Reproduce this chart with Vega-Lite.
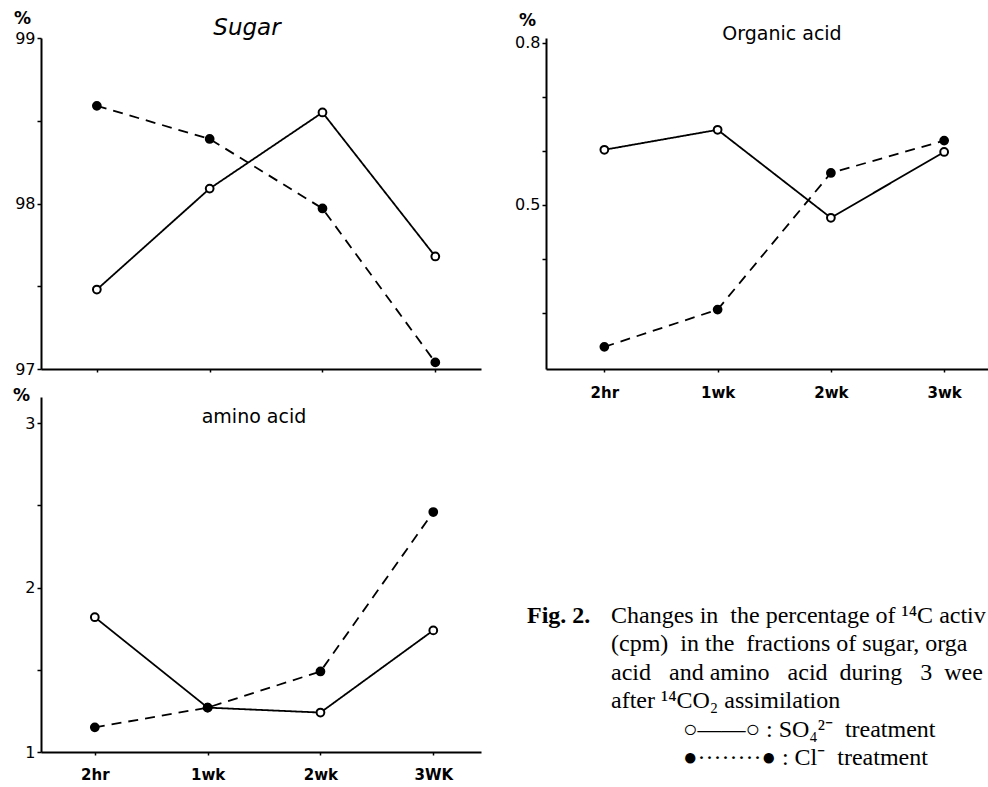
{
  "$schema": "https://vega.github.io/schema/vega-lite/v6.json",
  "background": "white",
  "padding": {"left": 12, "top": 9, "right": 0, "bottom": 0},
  "columns": 2,
  "bounds": "flush",
  "spacing": {"column": 65, "row": 28},
  "data": {
    "values": [
      {"panel": "Sugar", "time": "2hr", "treatment": "SO4", "value": 97.48},
      {"panel": "Sugar", "time": "1wk", "treatment": "SO4", "value": 98.09},
      {"panel": "Sugar", "time": "2wk", "treatment": "SO4", "value": 98.55},
      {"panel": "Sugar", "time": "3wk", "treatment": "SO4", "value": 97.68},
      {"panel": "Sugar", "time": "2hr", "treatment": "Cl", "value": 98.59},
      {"panel": "Sugar", "time": "1wk", "treatment": "Cl", "value": 98.39},
      {"panel": "Sugar", "time": "2wk", "treatment": "Cl", "value": 97.97},
      {"panel": "Sugar", "time": "3wk", "treatment": "Cl", "value": 97.04},
      {"panel": "Organic", "time": "2hr", "treatment": "SO4", "value": 0.602},
      {"panel": "Organic", "time": "1wk", "treatment": "SO4", "value": 0.639},
      {"panel": "Organic", "time": "2wk", "treatment": "SO4", "value": 0.476},
      {"panel": "Organic", "time": "3wk", "treatment": "SO4", "value": 0.598},
      {"panel": "Organic", "time": "2hr", "treatment": "Cl", "value": 0.237},
      {"panel": "Organic", "time": "1wk", "treatment": "Cl", "value": 0.306},
      {"panel": "Organic", "time": "2wk", "treatment": "Cl", "value": 0.559},
      {"panel": "Organic", "time": "3wk", "treatment": "Cl", "value": 0.619},
      {"panel": "Amino", "time": "2hr", "treatment": "SO4", "value": 1.82},
      {"panel": "Amino", "time": "1wk", "treatment": "SO4", "value": 1.27},
      {"panel": "Amino", "time": "2wk", "treatment": "SO4", "value": 1.24},
      {"panel": "Amino", "time": "3wk", "treatment": "SO4", "value": 1.74},
      {"panel": "Amino", "time": "2hr", "treatment": "Cl", "value": 1.15},
      {"panel": "Amino", "time": "1wk", "treatment": "Cl", "value": 1.27},
      {"panel": "Amino", "time": "2wk", "treatment": "Cl", "value": 1.49},
      {"panel": "Amino", "time": "3wk", "treatment": "Cl", "value": 2.46}
    ]
  },
  "resolve": {"scale": {"x": "independent", "y": "independent"}},
  "concat": [
    {
      "width": 440,
      "height": 331,
      "title": {"text": "Sugar", "fontSize": 23, "fontStyle": "italic", "dx": -14, "offset": -31},
      "transform": [{"filter": "datum.panel == 'Sugar'"}],
      "encoding": {
        "x": {"field": "time", "type": "ordinal", "sort": ["2hr", "1wk", "2wk", "3wk"],
              "scale": {"type": "point", "padding": 0.45, "align": 0.55},
              "axis": {"labels": false, "title": null, "tickSize": 3}},
        "y": {"field": "value", "type": "quantitative",
              "scale": {"domain": [97, 99], "zero": false, "nice": false},
              "axis": {"values": [97, 97.5, 98, 98.5, 99], "format": ".0f", "labelExpr": "datum.value % 1 == 0 ? datum.label : ''",
                       "title": "%", "titleAngle": 0, "titleX": -19, "titleY": -20, "titleAlign": "center", "titleBaseline": "middle"}}
      },
      "layer": [
        {"mark": {"type": "line", "color": "black", "strokeWidth": 1.8},
         "encoding": {"strokeDash": {"field": "treatment", "type": "nominal", "scale": {"domain": ["SO4", "Cl"], "range": [[1, 0], [10, 7]]}, "legend": null}}},
        {"mark": {"type": "point", "filled": true, "stroke": "black", "strokeWidth": 2, "size": 60, "opacity": 1},
         "encoding": {"fill": {"field": "treatment", "type": "nominal", "scale": {"domain": ["SO4", "Cl"], "range": ["white", "black"]}, "legend": null}}}
      ]
    },
    {
      "width": 444,
      "height": 331,
      "title": {"text": "Organic acid", "fontSize": 19, "dx": 14, "offset": -33},
      "transform": [{"filter": "datum.panel == 'Organic'"}],
      "encoding": {
        "x": {"field": "time", "type": "ordinal", "sort": ["2hr", "1wk", "2wk", "3wk"],
              "scale": {"type": "point", "padding": 0.46, "align": 0.56},
              "axis": {"title": null, "tickSize": 3, "labelAngle": 0, "labelFontSize": 15, "labelFontWeight": "bold", "labelPadding": 13}},
        "y": {"field": "value", "type": "quantitative",
              "scale": {"domain": [0.196, 0.809], "zero": false, "nice": false},
              "axis": {"values": [0.3, 0.4, 0.5, 0.6, 0.7, 0.8], "format": ".1f", "labelExpr": "(datum.value > 0.49 && datum.value < 0.51) || datum.value > 0.79 ? datum.label : ''",
                       "title": "%", "titleAngle": 0, "titleX": -19, "titleY": -18, "titleAlign": "center", "titleBaseline": "middle"}}
      },
      "layer": [
        {"mark": {"type": "line", "color": "black", "strokeWidth": 1.8},
         "encoding": {"strokeDash": {"field": "treatment", "type": "nominal", "scale": {"domain": ["SO4", "Cl"], "range": [[1, 0], [10, 7]]}, "legend": null}}},
        {"mark": {"type": "point", "filled": true, "stroke": "black", "strokeWidth": 2, "size": 60, "opacity": 1},
         "encoding": {"fill": {"field": "treatment", "type": "nominal", "scale": {"domain": ["SO4", "Cl"], "range": ["white", "black"]}, "legend": null}}}
      ]
    },
    {
      "width": 440,
      "height": 355,
      "title": {"text": "amino acid", "fontSize": 19, "dx": -7, "offset": -41},
      "transform": [{"filter": "datum.panel == 'Amino'"}],
      "encoding": {
        "x": {"field": "time", "type": "ordinal", "sort": ["2hr", "1wk", "2wk", "3wk"],
              "scale": {"type": "point", "padding": 0.45, "align": 0.53},
              "axis": {"title": null, "tickSize": 3, "labelAngle": 0, "labelFontSize": 15, "labelFontWeight": "bold", "labelPadding": 12,
                       "labelExpr": "datum.value == '3wk' ? '3WK' : datum.label"}},
        "y": {"field": "value", "type": "quantitative",
              "scale": {"domain": [1, 3.16], "zero": false, "nice": false},
              "axis": {"values": [1, 1.5, 2, 2.5, 3], "format": ".0f", "labelExpr": "datum.value % 1 == 0 ? datum.label : ''",
                       "title": "%", "titleAngle": 0, "titleX": -20, "titleY": -2, "titleAlign": "center", "titleBaseline": "middle"}}
      },
      "layer": [
        {"mark": {"type": "line", "color": "black", "strokeWidth": 1.8},
         "encoding": {"strokeDash": {"field": "treatment", "type": "nominal", "scale": {"domain": ["SO4", "Cl"], "range": [[1, 0], [10, 7]]}, "legend": null}}},
        {"mark": {"type": "point", "filled": true, "stroke": "black", "strokeWidth": 2, "size": 60, "opacity": 1},
         "encoding": {"fill": {"field": "treatment", "type": "nominal", "scale": {"domain": ["SO4", "Cl"], "range": ["white", "black"]}, "legend": null}}}
      ]
    },
    {
      "width": 444,
      "height": 355,
      "data": {"values": []},
      "mark": "point",
      "encoding": {},
      "title": {
        "text": "Fig. 2.",
        "subtitle": [
          "\u200b\u00a0\u00a0\u00a0\u00a0\u00a0\u00a0\u00a0\u00a0\u00a0\u00a0\u00a0\u00a0\u00a0\u00a0Changes in\u00a0 the percentage of ¹⁴C activ",
          "\u200b\u00a0\u00a0\u00a0\u00a0\u00a0\u00a0\u00a0\u00a0\u00a0\u00a0\u00a0\u00a0\u00a0\u00a0(cpm)\u00a0 in the\u00a0 fractions of sugar, orga",
          "\u200b\u00a0\u00a0\u00a0\u00a0\u00a0\u00a0\u00a0\u00a0\u00a0\u00a0\u00a0\u00a0\u00a0\u00a0acid\u00a0\u00a0 and amino\u00a0\u00a0 acid\u00a0 during\u00a0\u00a0 3\u00a0 wee",
          "\u200b\u00a0\u00a0\u00a0\u00a0\u00a0\u00a0\u00a0\u00a0\u00a0\u00a0\u00a0\u00a0\u00a0\u00a0after ¹⁴CO₂ assimilation",
          "\u200b\u00a0\u00a0\u00a0\u00a0\u00a0\u00a0\u00a0\u00a0\u00a0\u00a0\u00a0\u00a0\u00a0\u00a0\u00a0\u00a0\u00a0\u00a0\u00a0\u00a0\u00a0\u00a0\u00a0\u00a0\u00a0\u00a0○——○ : SO₄²⁻\u00a0 treatment",
          "\u200b\u00a0\u00a0\u00a0\u00a0\u00a0\u00a0\u00a0\u00a0\u00a0\u00a0\u00a0\u00a0\u00a0\u00a0\u00a0\u00a0\u00a0\u00a0\u00a0\u00a0\u00a0\u00a0\u00a0\u00a0\u00a0\u00a0●········● : Cl⁻\u00a0 treatment"
        ],
        "anchor": "start",
        "frame": "group",
        "orient": "top",
        "offset": -373,
        "dx": -19,
        "font": "Liberation Serif",
        "fontSize": 24,
        "fontWeight": "bold",
        "color": "black",
        "subtitleFont": "Liberation Serif",
        "subtitleFontSize": 24,
        "subtitleColor": "black",
        "subtitleLineHeight": 28.5,
        "subtitlePadding": -24
      }
    }
  ],
  "config": {
    "view": {"stroke": null},
    "font": "DejaVu Sans",
    "axis": {"domainColor": "black", "domainWidth": 2, "tickColor": "black", "tickWidth": 1.5, "tickSize": 4,
             "labelColor": "black", "labelFont": "DejaVu Sans", "labelFontSize": 16, "grid": false,
             "titleColor": "black", "titleFont": "DejaVu Sans", "titleFontSize": 17, "titleFontWeight": "bold"},
    "title": {"color": "black", "font": "DejaVu Sans", "fontWeight": "normal"}
  }
}
